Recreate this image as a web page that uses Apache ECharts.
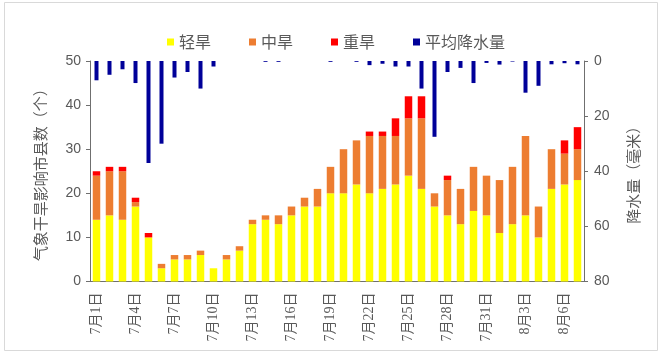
<!DOCTYPE html>
<html><head><meta charset="utf-8">
<script src="https://cdn.jsdelivr.net/npm/echarts@6/dist/echarts.min.js"></script>
<style>html,body{margin:0;padding:0;background:#fff}#c{width:665px;height:361px}</style>
</head><body><div id="c"></div>
<script>
const categories = ['7月1日','7月2日','7月3日','7月4日','7月5日','7月6日','7月7日','7月8日','7月9日','7月10日',
 '7月11日','7月12日','7月13日','7月14日','7月15日','7月16日','7月17日','7月18日','7月19日','7月20日',
 '7月21日','7月22日','7月23日','7月24日','7月25日','7月26日','7月27日','7月28日','7月29日','7月30日',
 '7月31日','8月1日','8月2日','8月3日','8月4日','8月5日','8月6日','8月7日'];
const light  = [14,15,14,17,10,3,5,5,6,3, 5,7,13,14,13,15,17,17,20,20, 22,20,21,22,24,21,17,15,13,16, 15,11,13,15,10,21,22,23];
const medium = [10,10,11,1,0,1,1,1,1,0, 1,1,1,1,2,2,2,4,6,10, 10,13,12,11,13,16,3,8,8,10, 9,12,13,18,7,9,7,7];
const severe = [1,1,1,1,1,0,0,0,0,0, 0,0,0,0,0,0,0,0,0,0, 0,1,1,4,5,5,0,1,0,0, 0,0,0,0,0,0,3,5];
const rain   = [7,5,3,8,37,30,6,4,10,2, 0,0,0,0.3,0.3,0,0,0,0.3,0, 0.3,1.5,1,2,2,10,27.5,4,2.5,8, 0.7,1.3,0.2,11.5,9,1.2,0.8,1.2];
const leftTicks = [0,10,20,30,40,50];
const rightTicks = [0,20,40,60,80];

const gray = '#595959';
const axisColor = '#6f6f6f';
const chart = echarts.init(document.getElementById('c'));
const xBase = {
  type:'category', data:categories, boundaryGap:true
};
chart.setOption({
  animation:false,
  backgroundColor:'#fff',
  graphic:[{type:'rect', shape:{x:4.5,y:2.5,width:653,height:348}, style:{fill:'none', stroke:'#d9d9d9', lineWidth:1}, silent:true}],
  legend:{
    top:29, left:162, itemWidth:7, itemHeight:7, itemGap:38, icon:'rect',
    textStyle:{color:gray, fontSize:16, fontFamily:'Noto Sans CJK SC'},
    data:['轻旱','中旱','重旱','平均降水量']
  },
  grid:{left:90, right:81, top:61, bottom:79.5},
  xAxis:[
    Object.assign({}, xBase, {
      position:'bottom',
      axisLine:{lineStyle:{color:axisColor}},
      axisTick:{interval:2, length:4, lineStyle:{color:axisColor}},
      axisLabel:{interval:2, rotate:90, margin:11, color:gray, fontSize:14, fontFamily:'Liberation Serif, Noto Sans CJK SC'}
    }),
    Object.assign({}, xBase, {show:false})
  ],
  yAxis:[
    {type:'value', min:leftTicks[0], max:leftTicks[leftTicks.length-1], interval:10, position:'left',
     name:'气象干旱影响市县数（个）', nameLocation:'middle', nameGap:42, nameRotate:90,
     nameTextStyle:{color:gray, fontSize:15, fontFamily:'Noto Sans CJK SC'},
     axisLine:{show:true, lineStyle:{color:axisColor}},
     axisTick:{show:true, length:4, lineStyle:{color:axisColor}},
     splitLine:{show:false},
     axisLabel:{color:gray, fontSize:14, margin:9, fontFamily:'Liberation Sans'}},
    {type:'value', min:rightTicks[0], max:rightTicks[rightTicks.length-1], interval:20, position:'right', inverse:true,
     name:'降水量（毫米）', nameLocation:'middle', nameGap:42, nameRotate:90,
     nameTextStyle:{color:gray, fontSize:15, fontFamily:'Noto Sans CJK SC'},
     axisLine:{show:true, lineStyle:{color:axisColor}},
     axisTick:{show:true, length:4, lineStyle:{color:axisColor}},
     splitLine:{show:false},
     axisLabel:{color:gray, fontSize:14, margin:10, fontFamily:'Liberation Sans'}}
  ],
  series:[
    {name:'轻旱', type:'bar', stack:'d', data:light, barWidth:7.5, itemStyle:{color:'#FFFF00'}},
    {name:'中旱', type:'bar', stack:'d', data:medium, barWidth:7.5, itemStyle:{color:'#ED7D31'}},
    {name:'重旱', type:'bar', stack:'d', data:severe, barWidth:7.5, itemStyle:{color:'#FF0000'}},
    {name:'平均降水量', type:'bar', xAxisIndex:1, yAxisIndex:1, data:rain, barWidth:4, itemStyle:{color:'#000099'}}
  ]
});
</script></body></html>
